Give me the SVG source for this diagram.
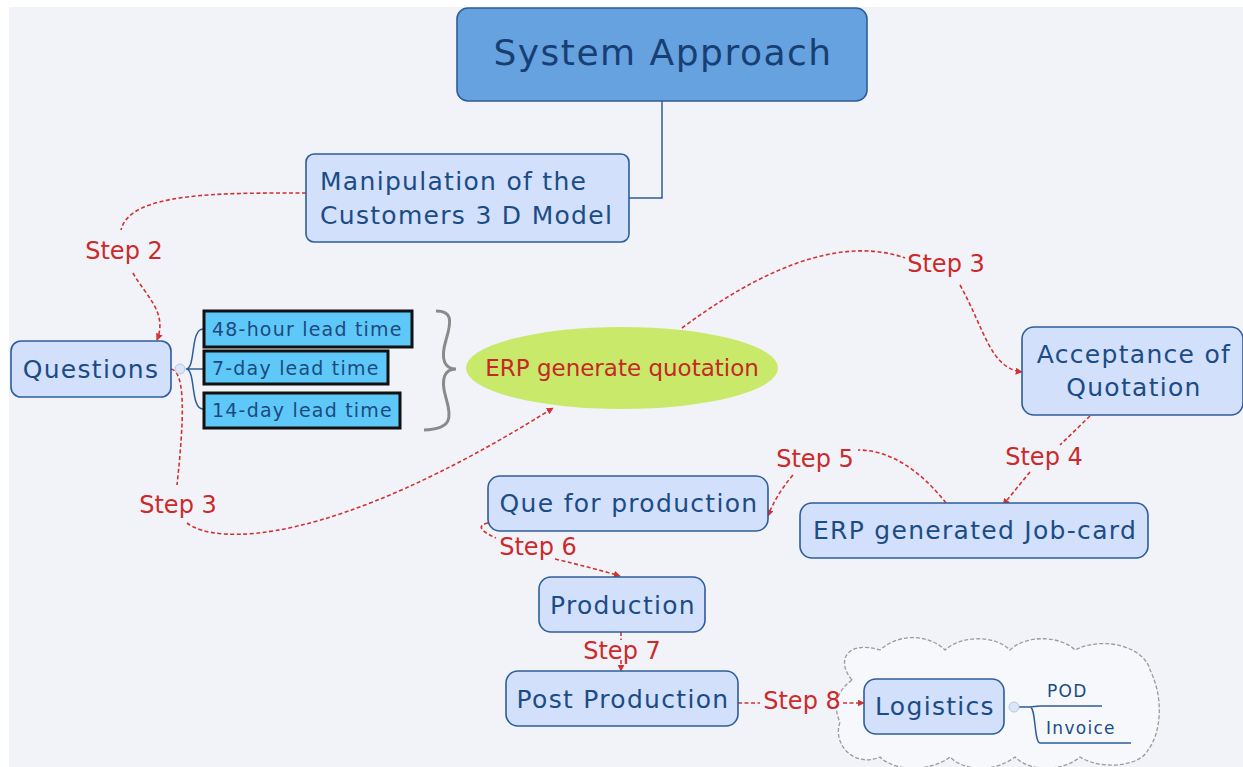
<svg xmlns="http://www.w3.org/2000/svg" width="1243" height="767" viewBox="0 0 1243 767">
<defs>
<style>
.node{fill:#d2e0fb;stroke:#2e5d99;stroke-width:1.6}
.nt{font-family:"DejaVu Sans",Verdana,sans-serif;font-size:25px;letter-spacing:1.3px;fill:#1b4c86}
.lead{fill:#5ec8f8;stroke:#111;stroke-width:3}
.lt{font-family:"DejaVu Sans",Verdana,sans-serif;font-size:19px;letter-spacing:1.2px;fill:#1c4a80}
.conn{fill:none;stroke:#d23232;stroke-width:1.6;stroke-dasharray:4 2.5}
.step{font-family:"DejaVu Sans",sans-serif;font-size:24px;fill:#cc2a2a}
.tree{fill:none;stroke:#2e5d99;stroke-width:1.5}
.sub{font-family:"DejaVu Sans",Verdana,sans-serif;font-size:17px;letter-spacing:1.3px;fill:#1b4c86}
</style>
<marker id="ah" viewBox="0 0 10 10" refX="9" refY="5" markerWidth="7" markerHeight="7" orient="auto" markerUnits="userSpaceOnUse">
<path d="M0,0 L10,5 L0,10 z" fill="#d23232"/>
</marker>
</defs>
<rect x="0" y="0" width="1243" height="767" fill="#ffffff"/>
<rect x="9" y="7" width="1234" height="760" fill="#f2f3f8"/>

<g id="cloud">
<path d="M852,680 C835,660 848,640 880,650 C900,632 930,635 945,650 C962,635 995,635 1010,650 C1025,635 1060,635 1075,650 C1105,635 1145,648 1150,670 C1165,700 1160,735 1148,750 C1140,767 1100,770 1080,757 C1062,772 1030,772 1015,757 C995,772 965,772 950,757 C930,772 895,772 880,757 C855,768 832,745 840,722 C832,705 838,690 852,680 Z" fill="#f7f8fb" stroke="#9a9a9a" stroke-width="1.3" stroke-dasharray="4 2"/>
</g>

<g id="connectors">
<path class="tree" d="M662,101 V198 H629"/>
<path class="tree" d="M186,369 C196,369 190,329 203,329 M186,369 H203 M186,369 C196,369 190,409 203,409"/>
<path d="M436,311 C452,311 452,320 446,340 C440,360 445,369 456,369 C445,369 440,378 446,398 C452,418 452,429 424,430" fill="none" stroke="#8a8a8a" stroke-width="3"/>
<path class="tree" d="M1019,707 H1030 C1034,707 1035,706 1040,706 H1102 M1030,707 C1036,707 1034,743 1040,743 H1131"/>
<path class="conn" d="M306,193 C220,193 130,192 121,230"/>
<path class="conn" d="M133,273 C145,295 168,312 157,340" marker-end="url(#ah)"/>
<path class="conn" d="M171,369 C186,372 184,420 177,485"/>
<path class="conn" d="M187,523 C215,545 330,548 553,408" marker-end="url(#ah)"/>
<path class="conn" d="M682,328 C760,270 840,235 905,258"/>
<path class="conn" d="M960,285 C985,330 990,368 1022,372" marker-end="url(#ah)"/>
<path class="conn" d="M1090,416 L1060,445 M1030,472 L1003,505" marker-end="url(#ah)"/>
<path class="conn" d="M946,503 C920,470 890,450 858,450"/>
<path class="conn" d="M793,475 C780,490 772,505 768,516" marker-end="url(#ah)"/>
<path class="conn" d="M488,523 C478,525 478,530 496,538"/>
<path class="conn" d="M555,559 C580,565 600,570 620,576" marker-end="url(#ah)"/>
<path class="conn" d="M621,632 V640 M621,660 V671" marker-end="url(#ah)"/>
<path class="conn" d="M738,703 H760 M843,703 H864" marker-end="url(#ah)"/>
</g>

<g id="system-approach">
<rect x="457" y="8" width="410" height="93" rx="11" fill="#66a2df" stroke="#2d5e9a" stroke-width="1.6"/>
<text x="663" y="65" text-anchor="middle" font-family="'DejaVu Sans',Verdana,sans-serif" font-size="36" letter-spacing="1.5" fill="#173f73">System Approach</text>
</g>

<g id="manipulation">
<rect class="node" x="306" y="154" width="323" height="88" rx="8"/>
<text class="nt" x="320" y="190">Manipulation of the</text>
<text class="nt" x="320" y="224">Customers 3 D Model</text>
</g>

<g id="questions">
<rect class="node" x="11" y="341" width="160" height="56" rx="10"/>
<text class="nt" x="91" y="378" text-anchor="middle">Questions</text>
<circle cx="180" cy="369" r="5" fill="#dbe6f6" stroke="#b5c8e6" stroke-width="1"/>
</g>

<g id="lead-48">
<rect class="lead" x="204" y="311" width="208" height="36"/>
<text class="lt" x="212" y="336">48-hour lead time</text>
</g>
<g id="lead-7">
<rect class="lead" x="204" y="351" width="184" height="33"/>
<text class="lt" x="212" y="375">7-day lead time</text>
</g>
<g id="lead-14">
<rect class="lead" x="204" y="393" width="196" height="35"/>
<text class="lt" x="212" y="417">14-day lead time</text>
</g>

<g id="erp-quotation">
<ellipse cx="622" cy="368" rx="156" ry="41" fill="#c9e96a"/>
<text x="622" y="376" text-anchor="middle" font-family="'DejaVu Sans',sans-serif" font-size="23" fill="#c62828">ERP generate quotation</text>
</g>

<g id="acceptance">
<rect class="node" x="1022" y="327" width="221" height="88" rx="12"/>
<text class="nt" x="1134" y="363" text-anchor="middle">Acceptance of</text>
<text class="nt" x="1134" y="396" text-anchor="middle">Quotation</text>
</g>

<g id="job-card">
<rect class="node" x="800" y="503" width="348" height="55" rx="12"/>
<text class="nt" x="975" y="539" text-anchor="middle">ERP generated Job-card</text>
</g>

<g id="que">
<rect class="node" x="488" y="476" width="280" height="55" rx="12"/>
<text class="nt" x="629" y="512" text-anchor="middle">Que for production</text>
</g>

<g id="production">
<rect class="node" x="539" y="577" width="166" height="55" rx="12"/>
<text class="nt" x="623" y="614" text-anchor="middle">Production</text>
</g>

<g id="post-production">
<rect class="node" x="506" y="671" width="232" height="55" rx="12"/>
<text class="nt" x="623" y="708" text-anchor="middle">Post Production</text>
</g>

<g id="logistics">
<rect class="node" x="864" y="679" width="140" height="55" rx="12"/>
<text class="nt" x="935" y="715" text-anchor="middle">Logistics</text>
<circle cx="1014" cy="707" r="5" fill="#dbe6f6" stroke="#b5c8e6" stroke-width="1"/>
</g>
<g id="pod"><text class="sub" x="1047" y="697">POD</text></g>
<g id="invoice"><text class="sub" x="1046" y="734">Invoice</text></g>

<g id="step-labels">
<text class="step" x="124" y="259" text-anchor="middle">Step 2</text>
<text class="step" x="178" y="513" text-anchor="middle">Step 3</text>
<text class="step" x="946" y="272" text-anchor="middle">Step 3</text>
<text class="step" x="1044" y="465" text-anchor="middle">Step 4</text>
<text class="step" x="815" y="467" text-anchor="middle">Step 5</text>
<text class="step" x="538" y="555" text-anchor="middle">Step 6</text>
<text class="step" x="622" y="659" text-anchor="middle">Step 7</text>
<text class="step" x="802" y="709" text-anchor="middle">Step 8</text>
</g>
</svg>
